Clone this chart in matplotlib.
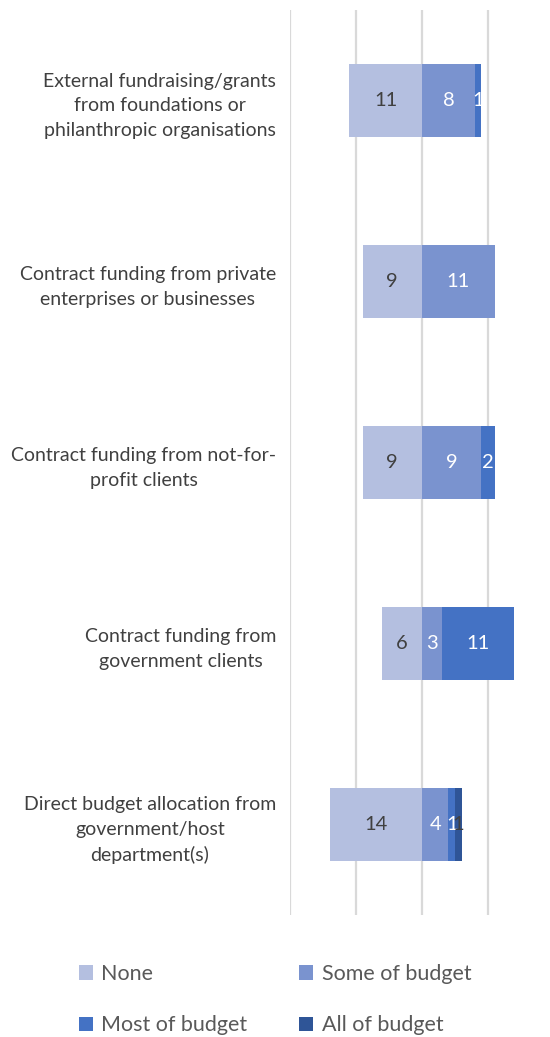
import matplotlib.pyplot as plt
import numpy as np

plt.rcParams['font.family'] = ['Lato', 'DejaVu Sans']

# categories, top to bottom
categories = [
    'External fundraising/grants\nfrom foundations or\nphilanthropic organisations',
    'Contract funding from private\nenterprises or businesses',
    'Contract funding from not-for-\nprofit clients',
    'Contract funding from\ngovernment clients',
    'Direct budget allocation from\ngovernment/host\ndepartment(s)',
]
none_vals = [11, 9, 9, 6, 14]
some_vals = [8, 11, 9, 3, 4]
most_vals = [1, 0, 2, 11, 1]
all_vals = [0, 0, 0, 0, 1]

series_names = ['None', 'Some of budget', 'Most of budget', 'All of budget']
colors = ['#B4BFE0', '#7A93CF', '#4472C4', '#2F5597']
label_colors = ['#404040', 'white', 'white', '#404040']

fig = plt.figure(figsize=(5.5, 10.37), dpi=100)
ax = fig.add_axes([290 / 550, 1 - 915 / 1037, 260 / 550, 905 / 1037])

y = np.arange(len(categories))
h = 0.4

bars = []
# None goes to the left of zero
b = ax.barh(y, [-v for v in none_vals], height=h, color=colors[0], zorder=3)
bars.append(b)
for rect, v in zip(b, none_vals):
    if v:
        ax.text(rect.get_x() + rect.get_width() / 2, rect.get_y() + h / 2, str(v),
                ha='center', va='center', fontsize=14.5, color=label_colors[0], zorder=4)

left = np.zeros(len(categories))
for vals, col, lc in zip([some_vals, most_vals, all_vals], colors[1:], label_colors[1:]):
    b = ax.barh(y, vals, left=left, height=h, color=col, zorder=3)
    bars.append(b)
    for rect, v in zip(b, vals):
        if v:
            ax.text(rect.get_x() + rect.get_width() / 2, rect.get_y() + h / 2, str(v),
                    ha='center', va='center', fontsize=14.5, color=lc, zorder=4)
    left += np.array(vals)

ax.set_xlim(-20, 19.4)
ax.set_ylim(len(categories) - 0.5, -0.5)
ax.set_xticks([-20, -10, 0, 10])
ax.xaxis.grid(True, color='#D9D9D9', linewidth=1.6, zorder=0)
ax.tick_params(axis='x', length=0, labelbottom=False)
ax.tick_params(axis='y', length=0, pad=10)
ax.set_yticks(y)
ax.set_yticklabels(categories, fontsize=14, color='#404040',
                   multialignment='center', linespacing=1.55)
for s in ax.spines.values():
    s.set_visible(False)

order = [0, 2, 1, 3]
fig.legend([bars[i] for i in order], [series_names[i] for i in order],
           loc='center', bbox_to_anchor=(0.5, 0.036), ncol=2, frameon=False,
           fontsize=15.5, labelcolor='#595959', handlelength=0.65, handleheight=0.65,
           handletextpad=0.4, labelspacing=1.45, columnspacing=2.4)

plt.savefig('out.png')
